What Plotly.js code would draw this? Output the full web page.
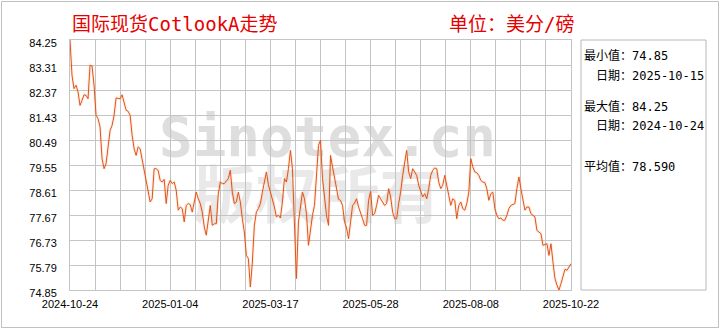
<!DOCTYPE html>
<html><head><meta charset="utf-8">
<script src="https://cdn.plot.ly/plotly-3.0.1.min.js"></script>
<style>html,body{margin:0;padding:0;background:#fff}#chart{width:720px;height:330px}</style>
</head><body><div id="chart"></div>
<script>
const tickDates = ['2024-10-24','2025-01-04','2025-03-17','2025-05-28','2025-08-08','2025-10-22'];
const tickIndex = [0, 50, 100, 150, 200, 250];
const yTicks = [84.25, 83.31, 82.37, 81.43, 80.49, 79.55, 78.61, 77.67, 76.73, 75.79, 74.85];
const statMin = '74.85', statMinDate = '2025-10-15';
const statMax = '84.25', statMaxDate = '2024-10-24';
const statAvg = '78.590';
const prices = [
84.25,82.92,82.42,82.55,82.30,81.79,81.98,82.19,82.17,82.04,
83.30,83.27,82.55,81.42,81.29,80.98,79.79,79.41,79.60,80.29,
80.85,81.04,81.42,82.07,82.04,82.04,82.19,81.86,81.61,81.57,
81.42,80.67,80.16,79.91,80.23,80.16,79.73,79.35,78.91,78.53,
78.16,78.28,79.41,79.41,79.35,78.97,78.91,79.01,78.10,78.79,
78.97,78.85,78.91,78.60,77.85,77.97,77.91,77.41,78.03,78.10,
78.06,77.78,78.16,78.53,78.28,78.10,77.78,77.22,76.91,77.41,
78.03,77.28,77.34,77.34,78.47,78.91,78.85,78.85,78.94,79.04,
79.35,78.53,78.10,78.16,78.53,78.16,77.53,77.03,76.15,76.03,
74.96,75.90,77.28,77.78,77.91,78.10,78.53,78.85,79.29,78.81,
78.53,78.31,77.97,77.60,77.66,77.56,78.16,79.04,78.91,79.41,
80.10,79.41,77.41,75.28,77.41,77.97,78.53,78.28,77.72,76.53,
77.16,77.66,78.03,79.04,80.29,80.48,79.04,78.35,77.66,77.28,
79.91,79.48,79.04,78.60,78.26,78.22,78.03,77.41,77.18,76.78,
77.41,78.03,78.12,78.28,77.97,77.78,77.53,77.28,77.28,78.22,
78.56,77.66,77.72,78.03,78.41,78.28,78.16,78.03,78.10,78.66,
78.35,77.78,77.53,77.53,78.10,78.53,79.16,79.66,80.10,79.29,
79.04,79.41,79.29,79.16,78.79,78.53,78.35,78.47,78.28,78.66,
79.16,79.35,79.44,79.41,78.91,78.66,78.79,79.16,78.72,78.41,
78.03,78.28,78.22,77.53,78.03,78.16,77.91,77.85,78.10,78.53,
79.79,79.48,79.29,79.26,79.16,78.97,78.91,78.89,78.66,78.22,
78.47,78.53,77.91,77.66,77.53,77.56,77.47,77.47,77.66,77.91,
78.03,78.06,78.10,78.66,79.10,78.66,78.22,77.85,77.97,77.97,
77.72,77.66,77.60,77.09,77.03,76.97,76.53,76.55,76.59,76.15,
76.59,75.90,75.28,75.03,74.85,75.09,75.40,75.63,75.59,75.72,
75.84
];
const dayIndex = prices.map((_, i) => i);

const L = 70, W = 501, T = 40, H = 250;
const px = x => (x - L) / W;
const py = y => (T + H - y) / H;
const cjk = '"DejaVu Sans Mono", "Noto Sans CJK SC", sans-serif';
const gridC = '#c4c4c4';

const traces = [
  {x: dayIndex, y: prices, type: 'scatter', mode: 'lines',
   line: {color: 'rgba(245,160,100,0.18)', width: 3}, hoverinfo: 'skip'},
  {x: dayIndex, y: prices, type: 'scatter', mode: 'lines',
   line: {color: '#e2531c', width: 1}}
];

const panelText = (txt, x, y) => ({text: txt, xref: 'paper', yref: 'paper', x: px(x), y: py(y),
  xanchor: 'left', yanchor: 'middle', showarrow: false, font: {family: cjk, size: 12, color: '#000'}});

const layout = {
  width: 720, height: 330,
  margin: {l: L, r: 720 - L - W, t: T, b: 330 - T - H},
  paper_bgcolor: '#fff', plot_bgcolor: '#fff',
  showlegend: false,
  title: {text: '国际现货CotlookA走势', font: {family: cjk, size: 19, color: '#e60000'},
          xref: 'container', yref: 'container', x: 72 / 720, xanchor: 'left', y: 1 - 24 / 330, yanchor: 'middle'},
  xaxis: {range: [0, 250], tickmode: 'array', tickvals: tickIndex, ticktext: tickDates,
          showgrid: true, gridcolor: gridC, gridwidth: 1, zeroline: false,
          showline: true, mirror: true, linecolor: gridC, linewidth: 1,
          ticks: '', ticklabelstandoff: 4,
          tickfont: {family: '"Liberation Sans", Arial, sans-serif', size: 11, color: '#000'},
          minor: {tickmode: 'linear', tick0: 0, dtick: 12.5, showgrid: true, gridcolor: gridC, gridwidth: 1, ticks: ''}},
  yaxis: {range: [74.85, 84.25], tickmode: 'array', tickvals: yTicks, ticktext: yTicks.map(v => v.toFixed(2)),
          showgrid: true, gridcolor: gridC, gridwidth: 1, zeroline: false,
          showline: true, mirror: true, linecolor: gridC, linewidth: 1,
          ticks: '', ticklabelstandoff: 10, ticklabelshift: 3,
          tickfont: {family: '"Liberation Sans", Arial, sans-serif', size: 11, color: '#000'}},
  shapes: [
    {type: 'rect', xref: 'paper', yref: 'paper', x0: px(1.5), x1: px(718.5), y0: py(327.5), y1: py(1.5),
     line: {color: '#c0c0c0', width: 1}, fillcolor: 'rgba(0,0,0,0)', layer: 'below'},
    {type: 'rect', xref: 'paper', yref: 'paper', x0: px(581), x1: px(706), y0: py(290), y1: py(40),
     line: {color: '#b8b8b8', width: 1}, fillcolor: 'rgba(0,0,0,0)'},
    {type: 'rect', xref: 'paper', yref: 'paper', x0: px(150), x1: px(505), y0: py(160), y1: py(105),
     line: {width: 0}, fillcolor: 'rgba(0,0,0,0)', layer: 'below',
     label: {text: 'Sinotex.cn', textposition: 'middle center',
             font: {family: '"DejaVu Sans Mono", monospace', size: 56, color: '#dedede', weight: 'bold'}}},
    {type: 'rect', xref: 'paper', yref: 'paper', x0: px(170), x1: px(465), y0: py(236), y1: py(166),
     line: {width: 0}, fillcolor: 'rgba(0,0,0,0)', layer: 'below',
     label: {text: '版权所有', textposition: 'middle center',
             font: {family: '"Noto Sans CJK SC", sans-serif', size: 62, color: '#e9e9e9', weight: 'bold'}}}
  ],
  annotations: [
    {text: '单位：美分/磅', xref: 'paper', yref: 'paper', x: px(447), y: py(24), xanchor: 'left', yanchor: 'middle',
     showarrow: false, font: {family: cjk, size: 19, color: '#e60000'}},
    panelText('最小值：' + statMin, 582, 56),
    panelText('日期：' + statMinDate, 594, 76),
    panelText('最大值：' + statMax, 582, 106),
    panelText('日期：' + statMaxDate, 594, 126),
    panelText('平均值：' + statAvg, 582, 166)
  ]
};
Plotly.newPlot('chart', traces, layout, {staticPlot: true, displayModeBar: false});
</script>
</body></html>
